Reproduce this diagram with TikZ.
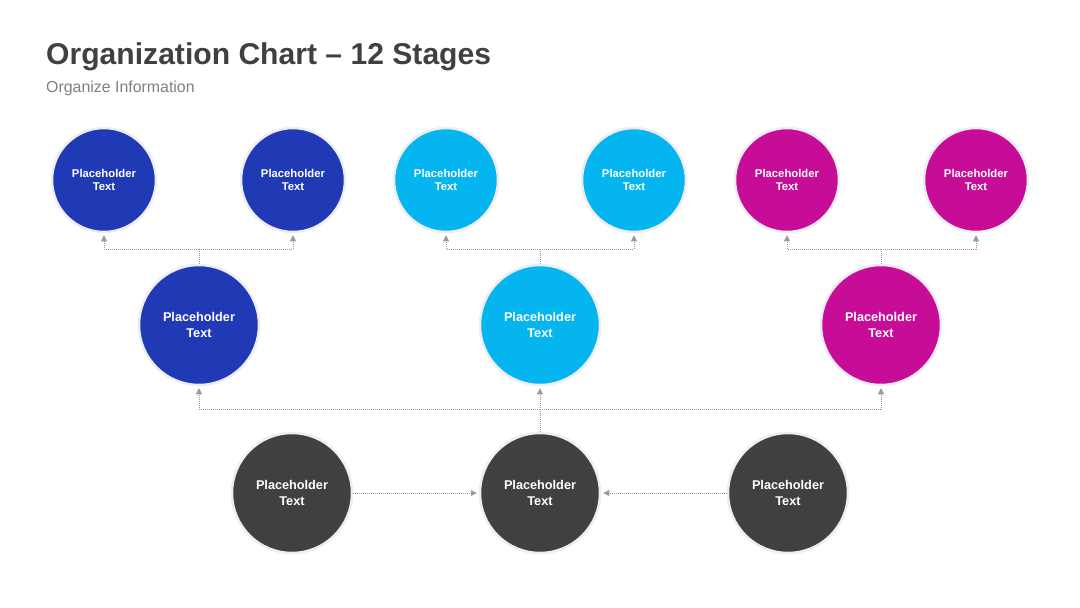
\documentclass[tikz,border=0pt]{standalone}
\usepackage{fontspec}
\setmainfont{Liberation Sans}
\usetikzlibrary{arrows.meta}
\definecolor{cblue}{HTML}{2039B5}
\definecolor{ccyan}{HTML}{05B5EF}
\definecolor{cmag}{HTML}{C70C97}
\definecolor{cdark}{HTML}{404040}
\definecolor{ctitle}{HTML}{404040}
\definecolor{csub}{HTML}{7F7F7F}
\definecolor{cline}{HTML}{9A9A9A}
\definecolor{chalo}{HTML}{EEEEF2}
\tikzset{
  bub/.style={circle, inner sep=0pt, draw=chalo, line width=2.5pt, text=white, align=center},
  small/.style={bub, minimum size=104pt, font=\fontsize{11.3}{13.5}\selectfont\bfseries},
  big/.style={bub, minimum size=120pt, font=\fontsize{12.7}{16}\selectfont\bfseries},
  conn/.style={draw=cline, line width=0.8pt, dash pattern=on 1pt off 1pt, -{Triangle[length=6pt,width=6pt,fill=cline]}, shorten >=2pt},
  plain/.style={draw=cline, line width=0.8pt, dash pattern=on 1pt off 1pt}
}
\begin{document}
\begin{tikzpicture}[x=1pt,y=-1pt]
\useasboundingbox (0,0) rectangle (1080,608);
\node[anchor=base west, text=ctitle, inner sep=0pt, font=\fontsize{30.1}{32}\selectfont\bfseries] (title) at (46,64) {Organization Chart – 12 Stages};
\node[anchor=base west, text=csub, inner sep=0pt, font=\fontsize{15.9}{18}\selectfont] (sub) at (46,92.5) {Organize Information};
% top row
\node[small, fill=cblue] (t1) at (104,180) {Placeholder\\Text};
\node[small, fill=cblue] (t2) at (293,180) {Placeholder\\Text};
\node[small, fill=ccyan] (t3) at (446,180) {Placeholder\\Text};
\node[small, fill=ccyan] (t4) at (634,180) {Placeholder\\Text};
\node[small, fill=cmag] (t5) at (787,180) {Placeholder\\Text};
\node[small, fill=cmag] (t6) at (976,180) {Placeholder\\Text};
% middle row
\node[big, fill=cblue] (m1) at (199,325) {Placeholder\\Text};
\node[big, fill=ccyan] (m2) at (540,325) {Placeholder\\Text};
\node[big, fill=cmag] (m3) at (881,325) {Placeholder\\Text};
% bottom row
\node[big, fill=cdark] (b1) at (292,493) {Placeholder\\Text};
\node[big, fill=cdark] (b2) at (540,493) {Placeholder\\Text};
\node[big, fill=cdark] (b3) at (788,493) {Placeholder\\Text};
% junctions
\coordinate (j1) at (199,249);
\coordinate (j2) at (540,249);
\coordinate (j3) at (881,249);
\coordinate (jb) at (540,409);
\draw[plain] (m1.north) -- (j1);
\draw[conn] (j1) -| (t1.south);
\draw[conn] (j1) -| (t2.south);
\draw[plain] (m2.north) -- (j2);
\draw[conn] (j2) -| (t3.south);
\draw[conn] (j2) -| (t4.south);
\draw[plain] (m3.north) -- (j3);
\draw[conn] (j3) -| (t5.south);
\draw[conn] (j3) -| (t6.south);
\draw[conn] (b2.north) -- (m2.south);
\draw[conn] (jb) -| (m1.south);
\draw[conn] (jb) -| (m3.south);
\draw[conn] (b1.east) -- (b2.west);
\draw[conn] (b3.west) -- (b2.east);
\end{tikzpicture}
\end{document}
